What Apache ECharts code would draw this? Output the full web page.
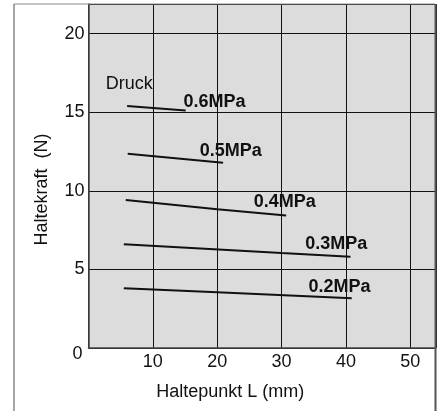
<!DOCTYPE html>
<html>
<head>
<meta charset="utf-8">
<script src="https://cdn.jsdelivr.net/npm/echarts@6/dist/echarts.min.js"></script>
<style>
  html, body { margin: 0; padding: 0; background: #fff; }
  #chart { width: 443px; height: 411px; }
</style>
</head>
<body>
<div id="chart"></div>
<script>
// Holding force vs. holding point, one curve per supply pressure
const pressures = ['0.6MPa', '0.5MPa', '0.4MPa', '0.3MPa', '0.2MPa'];
const x06 = [6.0, 15.1];        const y06 = [15.39, 15.1];
const x05 = [6.1, 20.9];        const y05 = [12.36, 11.79];
const x04 = [5.8, 20, 30.7];    const y04 = [9.41, 8.82, 8.42];
const x03 = [5.5, 30, 40.7];    const y03 = [6.6, 6.04, 5.81];
const x02 = [5.5, 20, 40.9];    const y02 = [3.8, 3.54, 3.16];
const xTicks = [10, 20, 30, 40, 50];
const yTicks = [0, 5, 10, 15, 20];

const xs = [x06, x05, x04, x03, x02];
const ys = [y06, y05, y04, y03, y02];

// pixel nudges for the pressure tags at the end of each curve
const tagOffsets = [[-2, -8], [-23, -11], [-32, -13], [-45, -12], [-43, -11]];

const FONT = '"Liberation Sans", Arial, Helvetica, sans-serif';

const series = pressures.map((name, i) => {
  const pts = xs[i].map((x, k) => [x, ys[i][k]]);
  const data = pts.map((p, k) => {
    const item = { value: p };
    if (k === pts.length - 1) {
      item.label = {
        show: true, position: tagOffsets[i], align: 'left', verticalAlign: 'middle',
        formatter: name,
        fontFamily: FONT, fontSize: 18, fontWeight: 'bold', color: '#111'
      };
    } else if (k === 0 && i === 0) {
      item.label = {
        show: true, position: [-21, -22], align: 'left', verticalAlign: 'middle',
        formatter: 'Druck',
        fontFamily: FONT, fontSize: 18, color: '#111'
      };
    }
    return item;
  });
  return {
    name, type: 'line', data,
    showSymbol: true, showAllSymbol: true, symbolSize: 0.5, symbol: 'circle',
    lineStyle: { color: '#111', width: 2 },
    itemStyle: { color: '#111' },
    label: { show: false },
    labelLayout: { hideOverlap: false },
    silent: true, z: 5
  };
});

const chart = echarts.init(document.getElementById('chart'), null, { renderer: 'canvas' });
chart.setOption({
  animation: false,
  backgroundColor: '#fff',
  grid: {
    left: 88.5, top: 4, width: 347.5, height: 344,
    show: true, backgroundColor: '#dcdcdc', borderWidth: 0
  },
  xAxis: {
    type: 'value', min: 0, max: 54, interval: 10,
    name: 'Haltepunkt L (mm)', nameLocation: 'middle', nameGap: 35,
    nameTextStyle: { fontFamily: FONT, fontSize: 18, color: '#111', padding: [0, 64, 0, 0] },
    axisLine: { show: true, lineStyle: { color: '#444', width: 1.5 } },
    axisTick: { show: false },
    axisLabel: {
      showMinLabel: false, showMaxLabel: false, margin: 5,
      fontFamily: FONT, fontSize: 18, color: '#111',
      formatter: v => (xTicks.includes(v) ? String(v) : '')
    },
    splitLine: { show: true, lineStyle: { color: '#111', width: 1 } }
  },
  yAxis: {
    type: 'value', min: 0, max: 21.88, interval: 5,
    name: 'Haltekraft  (N)', nameLocation: 'middle', nameGap: 37, nameRotate: 90,
    nameTextStyle: { fontFamily: FONT, fontSize: 18, color: '#111', padding: [0, 27, 0, 0] },
    axisLine: { show: true, lineStyle: { color: '#444', width: 1.5 } },
    axisTick: { show: false },
    axisLabel: {
      showMaxLabel: false, margin: 4,
      fontFamily: FONT, fontSize: 18, color: '#111',
      formatter: v => (v === 0 ? '{z|0}' : (yTicks.includes(v) ? String(v) : '')),
      rich: { z: { fontFamily: FONT, fontSize: 18, color: '#111', padding: [13, 2, 0, 0] } }
    },
    splitLine: { show: true, lineStyle: { color: '#111', width: 1 } }
  },
  graphic: [
    { type: 'line', shape: { x1: 14, y1: 4, x2: 435, y2: 4 }, style: { stroke: '#888', lineWidth: 1 }, z: 10 },
    { type: 'line', shape: { x1: 14, y1: 4, x2: 14, y2: 411 }, style: { stroke: '#888', lineWidth: 1.5 }, z: 10 },
    { type: 'line', shape: { x1: 435.5, y1: 4, x2: 435.5, y2: 411 }, style: { stroke: '#555', lineWidth: 2 }, z: 10 }
  ],
  series
});
</script>
</body>
</html>
